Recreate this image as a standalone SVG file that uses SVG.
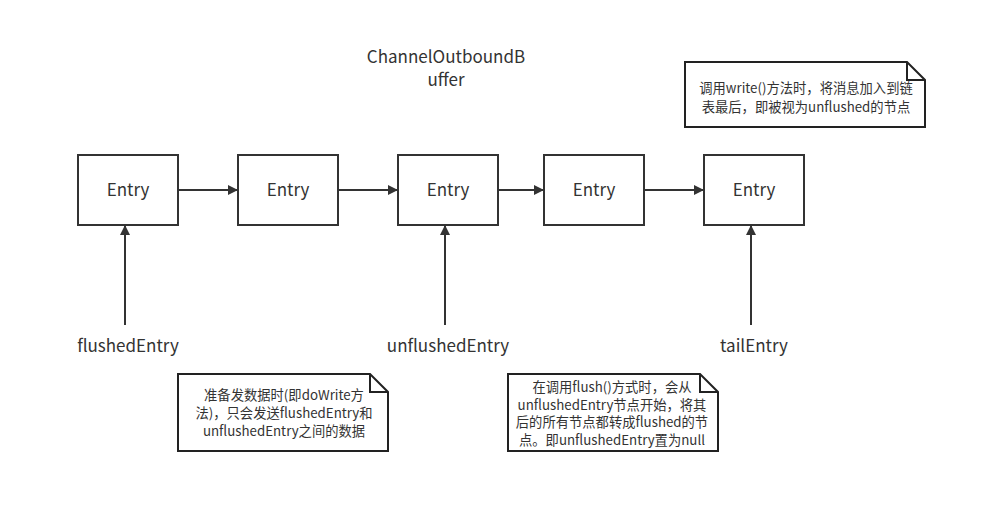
<svg xmlns="http://www.w3.org/2000/svg" width="986" height="512" viewBox="0 0 986 512">
<style>
text{font-family:"Noto Sans CJK SC","Open Sans",sans-serif;fill:#333;}
.box{fill:#fff;stroke:#333;stroke-width:2;}
.lbl{font-size:17px;text-anchor:middle;}
.note{fill:#fff;stroke:#222;stroke-width:2;}
.nt{font-size:13.3px;text-anchor:middle;}
.conn{stroke:#333;stroke-width:2;fill:none;marker-end:url(#ah);}
</style>
<defs>
<marker id="ah" markerWidth="10" markerHeight="10" refX="9" refY="5" orient="auto" markerUnits="userSpaceOnUse">
<path d="M0,0 L10,5 L0,10 Z" fill="#333"/>
</marker>
</defs>
<rect width="986" height="512" fill="#fff"/>
<g id="title"><text class="lbl" x="446" y="63">ChannelOutboundB</text><text class="lbl" x="446" y="86">uffer</text></g>
<g id="e1"><rect class="box" x="78" y="155" width="100" height="70"/><text class="lbl" x="128" y="196">Entry</text></g>
<g id="e2"><rect class="box" x="238" y="155" width="100" height="70"/><text class="lbl" x="288" y="196">Entry</text></g>
<g id="e3"><rect class="box" x="398" y="155" width="100" height="70"/><text class="lbl" x="448" y="196">Entry</text></g>
<g id="e4"><rect class="box" x="544" y="155" width="100" height="70"/><text class="lbl" x="594" y="196">Entry</text></g>
<g id="e5"><rect class="box" x="704" y="155" width="100" height="70"/><text class="lbl" x="754" y="196">Entry</text></g>
<g id="p1"><text class="lbl" x="128" y="352">flushedEntry</text></g>
<g id="p2"><text class="lbl" x="448" y="352">unflushedEntry</text></g>
<g id="p3"><text class="lbl" x="754" y="352">tailEntry</text></g>
<g id="connectors">
<line class="conn" x1="178" y1="190" x2="237" y2="190"/>
<line class="conn" x1="338" y1="190" x2="397" y2="190"/>
<line class="conn" x1="498" y1="190" x2="543" y2="190"/>
<line class="conn" x1="644" y1="190" x2="703" y2="190"/>
<line class="conn" x1="125" y1="325" x2="125" y2="226"/>
<line class="conn" x1="445" y1="325" x2="445" y2="226"/>
<line class="conn" x1="751" y1="325" x2="751" y2="226"/>
</g>
<g id="n1"><path class="note" d="M685,62 H907 L925,80 V127 H685 Z M907,62 V80 H925"/>
<text class="nt" x="806" y="93">调用write()方法时，将消息加入到链</text>
<text class="nt" x="806" y="112">表最后，即被视为unflushed的节点</text></g>
<g id="n2"><path class="note" d="M178,374 H370 L388,392 V451 H178 Z M370,374 V392 H388"/>
<text class="nt" x="284" y="400">准备发数据时(即doWrite方</text>
<text class="nt" x="284" y="418">法)，只会发送flushedEntry和</text>
<text class="nt" x="284" y="436">unflushedEntry之间的数据</text></g>
<g id="n3"><path class="note" d="M508,374 H700 L718,392 V451 H508 Z M700,374 V392 H718"/>
<text class="nt" x="612" y="392">在调用flush()方式时，会从</text>
<text class="nt" x="612" y="409.5">unflushedEntry节点开始，将其</text>
<text class="nt" x="612" y="427">后的所有节点都转成flushed的节</text>
<text class="nt" x="612" y="444.5">点。即unflushedEntry置为null</text></g>
</svg>
